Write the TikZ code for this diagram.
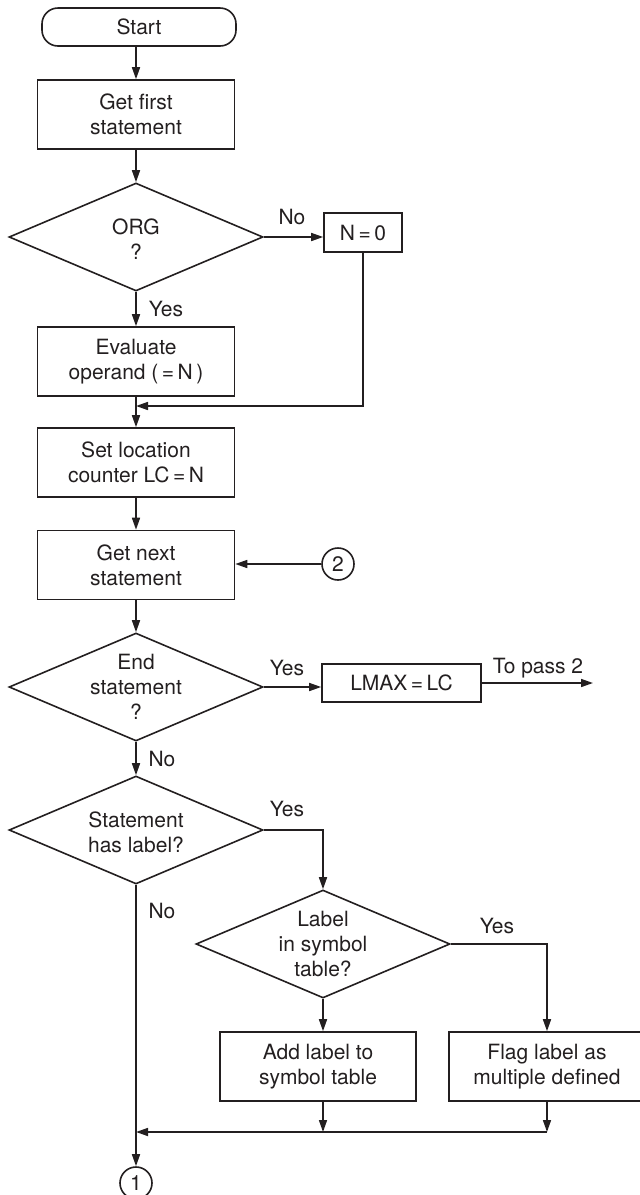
\documentclass[tikz,border=0pt]{standalone}
\usepackage{fontspec}
\setmainfont{TeX Gyre Heros}
\usetikzlibrary{arrows.meta,shapes.geometric}
\definecolor{ink}{RGB}{35,31,32}
\begin{document}
\begin{tikzpicture}[x=1pt,y=-1pt,
  every node/.style={font=\fontsize{21}{25}\selectfont, text=ink, align=center},
  box/.style={draw=ink, line width=1.6pt, rectangle, minimum width=197pt, minimum height=69pt, inner sep=0pt},
  term/.style={draw=ink, line width=1.6pt, rectangle, rounded corners=16pt, inner sep=0pt},
  dia/.style={draw=ink, line width=1.6pt, diamond, minimum width=254pt, minimum height=108pt, inner sep=0pt},
  conn/.style={draw=ink, line width=1.6pt, circle, minimum size=32pt, inner sep=0pt},
  arr/.style={draw=ink, line width=1.6pt, -{Triangle[length=12pt,width=8pt]}},
  wire/.style={draw=ink, line width=1.6pt},
  lab/.style={anchor=base}
]
\useasboundingbox (0,0) rectangle (640,1195);

% nodes
\node[term, minimum width=194pt, minimum height=38pt] (start) at (139,27) {Start};
\node[box] (first) at (136,114.5) {Get first\\statement};
\node[dia] (org) at (136,237) {};
\node (orgt) at (136,239) {ORG\\?};
\node[box, minimum width=78pt, minimum height=39pt] (n0) at (363,232.5) {N\,=\,0};
\node[box] (eval) at (136,361.5) {Evaluate\\operand (\,=\,N\,)};
\node[box] (setlc) at (136,462.5) {Set location\\counter LC\,=\,N};
\node[box] (next) at (136,565) {Get next\\statement};
\node[conn] (c2) at (338,564) {2};
\node[dia] (endq) at (136,687) {};
\node (endt) at (136,687) {End\\statement\\?};
\node[box, minimum width=159pt, minimum height=38pt] (lmax) at (401.5,683) {LMAX\,=\,LC};
\coordinate (pass2) at (593,683);
\node[dia] (hasl) at (136,830) {};
\node (haslt) at (136,832) {Statement\\has label?};
\node[dia] (insym) at (323,944) {};
\node (insymt) at (323,944) {Label\\in symbol\\table?};
\node[box, minimum width=196pt] (add) at (318,1066.5) {Add label to\\symbol table};
\node[box, minimum width=196pt] (flag) at (547,1066.5) {Flag label as\\multiple defined};
\node[conn] (c1) at (136,1183) {1};
\coordinate (m0) at (136,406);
\coordinate (m1) at (136,1132);

% connectors
\draw[arr] (first.north |- start.south) -- (first.north);
\draw[arr] (first) -- (org);
\draw[arr] (org.east) -- (org.east -| n0.west);
\draw[arr] (org) -- (eval);
\draw[arr] (n0.south) |- (m0);
\draw[arr] (eval) -- (setlc);
\draw[arr] (setlc) -- (next);
\draw[arr] (c2) -- (c2 -| next.east);
\draw[arr] (next) -- (endq);
\draw[arr] (endq.east) -- (endq.east -| lmax.west);
\draw[arr] (lmax.east) -- (pass2);
\draw[arr] (endq) -- (hasl);
\draw[arr] (hasl.east) -| (insym.north);
\draw[arr] (hasl) -- (c1);
\draw[arr] (insym.east) -| (flag.north);
\draw[arr] (insym) -- (add.north -| insym.south);
\draw[arr] (add.south -| insym.south) -- (m1 -| insym.south);
\draw[arr] (flag.south) -- (m1 -| flag.south);
\draw[arr] (m1 -| flag.south) -- (m1);

% labels
\node[lab] (lno1) at (292,224) {No};
\node[lab] (lyes1) at (166,316) {Yes};
\node[lab] (lyes2) at (287,675) {Yes};
\node[lab] (lpass) at (538,673) {To pass 2};
\node[lab] (lno2) at (162,766) {No};
\node[lab] (lyes3) at (287,816) {Yes};
\node[lab] (lno3) at (162,918) {No};
\node[lab] (lyes4) at (497,933) {Yes};
\end{tikzpicture}
\end{document}
